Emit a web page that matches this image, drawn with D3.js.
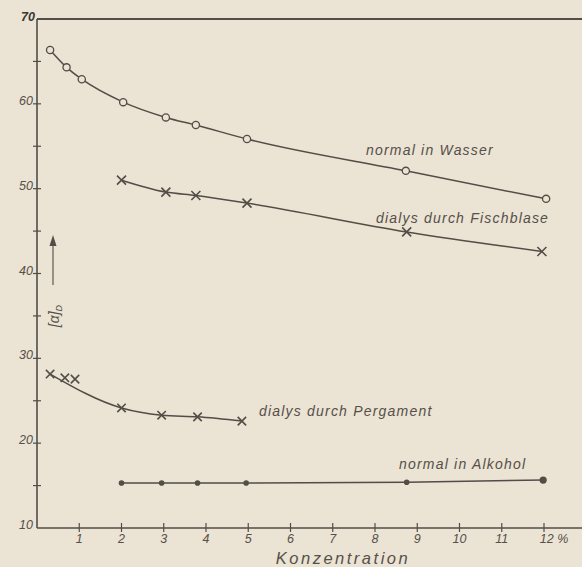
<!DOCTYPE html>
<html>
<head>
<meta charset="utf-8">
<script src="https://cdn.jsdelivr.net/npm/d3@7"></script>
<style>
  html, body { margin: 0; padding: 0; background: #ebe3d3; }
  svg { display: block; }
  text { font-family: "Liberation Sans", "DejaVu Sans", sans-serif; font-style: italic; fill: #55504a; }
</style>
</head>
<body>
<svg id="chart" width="582" height="567"></svg>
<script>
// concentration in %, specific rotation [alpha]D
let wasser_x = [0.31, 0.7, 1.06, 2.04, 3.05, 3.76, 4.97, 8.73, 12.05];
let wasser_y = [66.35, 64.3, 62.9, 60.2, 58.4, 57.5, 55.85, 52.1, 48.8];

let fisch_x = [2.0, 3.05, 3.76, 4.97, 8.75, 11.95];
let fisch_y = [51.0, 49.6, 49.2, 48.3, 44.9, 42.6];

let perg_x = [0.31, 0.66, 0.9, 2.0, 2.95, 3.8, 4.85];
let perg_y = [28.15, 27.7, 27.55, 24.15, 23.3, 23.1, 22.6];
// points the drawn curve follows (the two early crosses sit above it)
let perg_fit = [0, 3, 4, 5, 6];

let alk_x = [2.0, 2.95, 3.8, 4.95, 8.75, 11.98];
let alk_y = [15.3, 15.3, 15.3, 15.3, 15.4, 15.65];

let y_ticks = [15, 20, 25, 30, 35, 40, 45, 50, 55, 60, 65];
let y_labels = [10, 20, 30, 40, 50, 60];
let x_ticks = [1, 2, 3, 4, 5, 6, 7, 8, 9, 10, 11, 12];

let ink = '#524d47';
let svg = d3.select('#chart');

let sx = d3.scaleLinear().domain([0, 12]).range([37, 544]);
let sy = d3.scaleLinear().domain([10, 70]).range([528, 19]);

let zip = (xs, ys) => xs.map((x, i) => [x, ys[i]]);
let wasser = zip(wasser_x, wasser_y);
let fisch = zip(fisch_x, fisch_y);
let perg = zip(perg_x, perg_y);
let alk = zip(alk_x, alk_y);

// frame: left axis, top line, bottom axis
svg.append('line').attr('x1', sx(0)).attr('x2', sx(0)).attr('y1', sy(70)).attr('y2', sy(10))
  .attr('stroke', ink).attr('stroke-width', 1.6);
svg.append('line').attr('x1', sx(0)).attr('x2', 582).attr('y1', sy(70)).attr('y2', sy(70))
  .attr('stroke', ink).attr('stroke-width', 2);
svg.append('line').attr('x1', sx(0)).attr('x2', 582).attr('y1', sy(10)).attr('y2', sy(10))
  .attr('stroke', ink).attr('stroke-width', 1.6);

// y ticks
svg.append('g').selectAll('line').data(y_ticks).join('line')
  .attr('x1', sx(0) - 4).attr('x2', sx(0) + 4)
  .attr('y1', d => sy(d)).attr('y2', d => sy(d))
  .attr('stroke', ink).attr('stroke-width', 1.2);
svg.append('g').selectAll('text').data(y_labels).join('text')
  .attr('x', sx(0) - 4).attr('y', d => sy(d) + 1)
  .attr('text-anchor', 'end').attr('font-size', 12.5)
  .text(d => d);
svg.append('text').attr('x', sx(0) - 2).attr('y', sy(70) + 2)
  .attr('text-anchor', 'end').attr('font-size', 12.5).attr('font-weight', 'bold')
  .attr('font-style', 'normal').style('fill', '#3a3631').text('70');

// x ticks
svg.append('g').selectAll('line').data(x_ticks).join('line')
  .attr('x1', d => sx(d)).attr('x2', d => sx(d))
  .attr('y1', sy(10) - 5).attr('y2', sy(10) + 4)
  .attr('stroke', ink).attr('stroke-width', 1.2);
svg.append('g').selectAll('text').data(x_ticks).join('text')
  .attr('x', d => sx(d)).attr('y', sy(10) + 15)
  .attr('text-anchor', 'middle').attr('font-size', 12.5)
  .text(d => d === 12 ? '12 %' : d)
  .attr('dx', d => d === 12 ? 10 : 0);
svg.append('text').attr('x', 343).attr('y', 564)
  .attr('text-anchor', 'middle').attr('font-size', 16.5).attr('letter-spacing', 2.5)
  .text('Konzentration');

// y axis label with arrow
svg.append('text').attr('transform', 'translate(59,316) rotate(-90)')
  .attr('text-anchor', 'middle').attr('font-size', 14).attr('font-style', 'normal')
  .html('[α]<tspan font-size="9" dy="3">D</tspan>');
svg.append('line').attr('x1', 53).attr('x2', 53).attr('y1', 285).attr('y2', 240)
  .attr('stroke', ink).attr('stroke-width', 1.1);
svg.append('path').attr('d', 'M49.5,246 L53,235 L56.5,246 Z').attr('fill', ink);

// curves
let line = d3.line().x(d => sx(d[0])).y(d => sy(d[1])).curve(d3.curveMonotoneX);
let curves = [wasser, fisch, perg_fit.map(i => perg[i]), alk];
svg.append('g').selectAll('path').data(curves).join('path')
  .attr('d', d => line(d))
  .attr('fill', 'none').attr('stroke', ink).attr('stroke-width', 1.5);

// markers
svg.append('g').selectAll('circle').data(wasser).join('circle')
  .attr('cx', d => sx(d[0])).attr('cy', d => sy(d[1])).attr('r', 3.6)
  .attr('fill', '#ebe3d3').attr('stroke', ink).attr('stroke-width', 1.3);

let cross = (sel, data, r) => sel.append('g').selectAll('path').data(data).join('path')
  .attr('d', d => {
    let x = sx(d[0]), y = sy(d[1]);
    return `M${x - r},${y - r}L${x + r},${y + r}M${x - r},${y + r}L${x + r},${y - r}`;
  })
  .attr('stroke', ink).attr('stroke-width', 1.6).attr('fill', 'none');
cross(svg, fisch, 4.5);
cross(svg, perg, 4.2);

svg.append('g').selectAll('circle').data(alk).join('circle')
  .attr('cx', d => sx(d[0])).attr('cy', d => sy(d[1]))
  .attr('r', (d, i) => i === alk.length - 1 ? 3.6 : 2.8)
  .attr('fill', ink);

// series labels
let labels = [
  ['normal in Wasser', 366, 155],
  ['dialys durch Fischblase', 376, 223],
  ['dialys durch Pergament', 259, 416],
  ['normal in Alkohol', 399, 469]
];
svg.append('g').selectAll('text').data(labels).join('text')
  .attr('x', d => d[1]).attr('y', d => d[2])
  .attr('font-size', 14).attr('letter-spacing', 1.2)
  .text(d => d[0]);
</script>
</body>
</html>
